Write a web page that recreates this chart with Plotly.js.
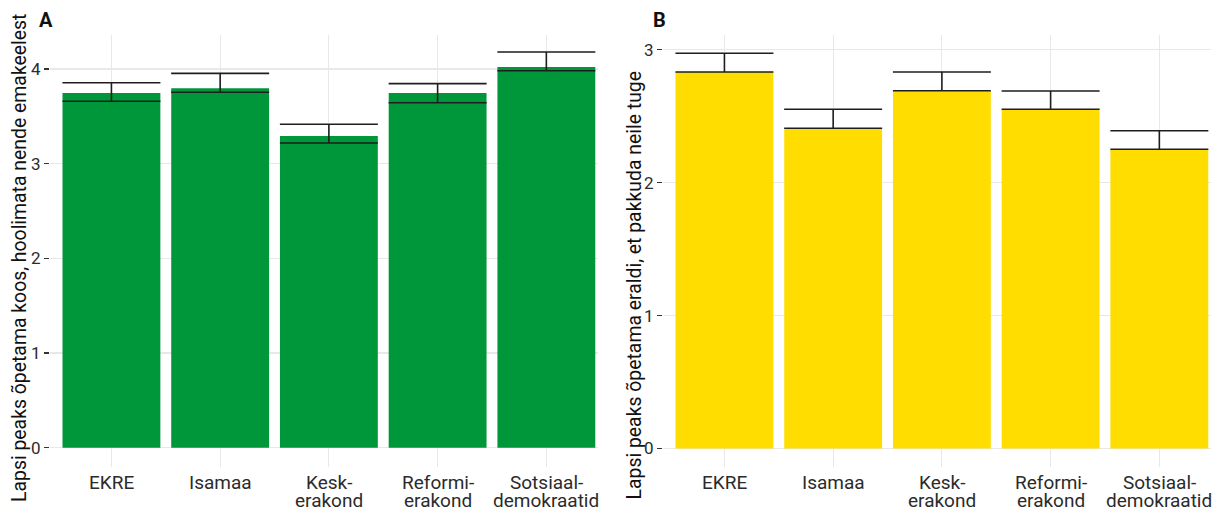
<!DOCTYPE html>
<html>
<head>
<meta charset="utf-8">
<script src="https://cdn.plot.ly/plotly-3.0.1.min.js"></script>
<style>html,body{margin:0;padding:0;background:#fff;}#chart{width:1222px;height:511px;}</style>
</head>
<body>
<div id="chart"></div>
<script>
// ---- data ----
const parties = ['EKRE', 'Isamaa', 'Kesk-erakond', 'Reformi-erakond', 'Sotsiaal-demokraatid'];
const labelLine1 = ['EKRE', 'Isamaa', 'Kesk-', 'Reformi-', 'Sotsiaal-'];
const labelLine2 = ['', '', 'erakond', 'erakond', 'demokraatid'];

const meanA  = [3.745, 3.795, 3.291, 3.745, 4.020];
const upperA = [3.854, 3.953, 3.415, 3.844, 4.178];
const lowerA = [3.658, 3.753, 3.218, 3.643, 3.981];

const meanB  = [2.833, 2.410, 2.692, 2.552, 2.251];
const upperB = [2.974, 2.552, 2.833, 2.690, 2.391];
const lowerB = [2.833, 2.410, 2.692, 2.552, 2.251];

const ticksA = [0, 1, 2, 3, 4];
const ticksB = [0, 1, 2, 3];

const titleA = 'Lapsi peaks õpetama koos, hoolimata nende emakeelest';
const titleB = 'Lapsi peaks õpetama eraldi, et pakkuda neile tuge';

// ---- layout helpers ----
const W = 1222, H = 511;
const px = v => v / W;
const py = v => (H - v) / H;
const FONT = 'Roboto, "Noto Sans", sans-serif';
const TXT = '#2b2b2b';
const GRID = '#e8e8e8';

function bar(means, uppers, lowers, color, xa, ya) {
  return {
    type: 'bar', x: parties, y: means, xaxis: xa, yaxis: ya,
    width: 0.9, marker: {color: color, line: {width: 0}},
    hoverinfo: 'x+y',
    error_y: {
      type: 'data', symmetric: false,
      array: uppers.map((u, i) => u - means[i]),
      arrayminus: lowers.map((l, i) => means[i] - l),
      color: '#1e1e1e', thickness: 1.6, width: 49
    }
  };
}

const data = [
  bar(meanA, upperA, lowerA, '#00963a', 'x', 'y'),
  bar(meanB, upperB, lowerB, '#ffdd00', 'x2', 'y2')
];

function xax(dom) {
  return {
    domain: dom, type: 'category', categoryorder: 'array', categoryarray: parties,
    range: [-0.565, 4.475], showticklabels: false, ticks: '',
    showgrid: true, gridcolor: GRID, gridwidth: 1.2, zeroline: false, showline: false, fixedrange: true
  };
}
function yax(range, ticks) {
  return {
    domain: [py(467), py(35)], range: range, tickvals: ticks, ticktext: ticks.map(String),
    ticks: 'outside', ticklen: 5, tickwidth: 1.2, tickcolor: '#333',
    tickfont: {family: FONT, size: 17, color: TXT},
    showgrid: true, gridcolor: GRID, gridwidth: 1.2, zeroline: false, showline: false, fixedrange: true
  };
}

const LBL = 19;
const annotations = [];
['x', 'x2'].forEach(xa => {
  parties.forEach((p, i) => {
    annotations.push({xref: xa, yref: 'paper', x: p, y: py(482), yanchor: 'middle', xanchor: 'center',
      borderpad: 0, text: labelLine1[i], showarrow: false, font: {family: FONT, size: LBL, color: TXT}});
    if (labelLine2[i]) {
      annotations.push({xref: xa, yref: 'paper', x: p, y: py(500), yanchor: 'middle', xanchor: 'center',
        borderpad: 0, text: labelLine2[i], showarrow: false, font: {family: FONT, size: LBL, color: TXT}});
    }
  });
});
annotations.push({xref: 'paper', yref: 'paper', x: px(19), y: py(503), xanchor: 'center', yanchor: 'bottom',
  borderpad: 0, textangle: -90, text: titleA, showarrow: false, font: {family: FONT, size: 19.4, color: '#111'}});
annotations.push({xref: 'paper', yref: 'paper', x: px(634), y: py(501), xanchor: 'center', yanchor: 'bottom',
  borderpad: 0, textangle: -90, text: titleB, showarrow: false, font: {family: FONT, size: 19.4, color: '#111'}});
annotations.push({xref: 'paper', yref: 'paper', x: px(37), y: py(20), xanchor: 'left', yanchor: 'middle',
  text: '<b>A</b>', showarrow: false, font: {family: FONT, size: 20, color: '#111'}});
annotations.push({xref: 'paper', yref: 'paper', x: px(651), y: py(20), xanchor: 'left', yanchor: 'middle',
  text: '<b>B</b>', showarrow: false, font: {family: FONT, size: 20, color: '#111'}});

const layout = {
  width: W, height: H,
  margin: {l: 0, r: 0, t: 0, b: 0, pad: 0},
  paper_bgcolor: '#fff', plot_bgcolor: '#fff',
  showlegend: false, bargap: 0.1,
  xaxis: xax([px(50), px(598)]),
  yaxis: Object.assign(yax([-0.204, 4.358], ticksA), {anchor: 'x'}),
  xaxis2: Object.assign(xax([px(663), px(1211)]), {anchor: 'y2'}),
  yaxis2: Object.assign(yax([-0.139, 3.111], ticksB), {anchor: 'x2'}),
  annotations: annotations,
  font: {family: FONT, color: TXT}
};

Plotly.newPlot('chart', data, layout, {displayModeBar: false, staticPlot: true});
</script>
</body>
</html>
